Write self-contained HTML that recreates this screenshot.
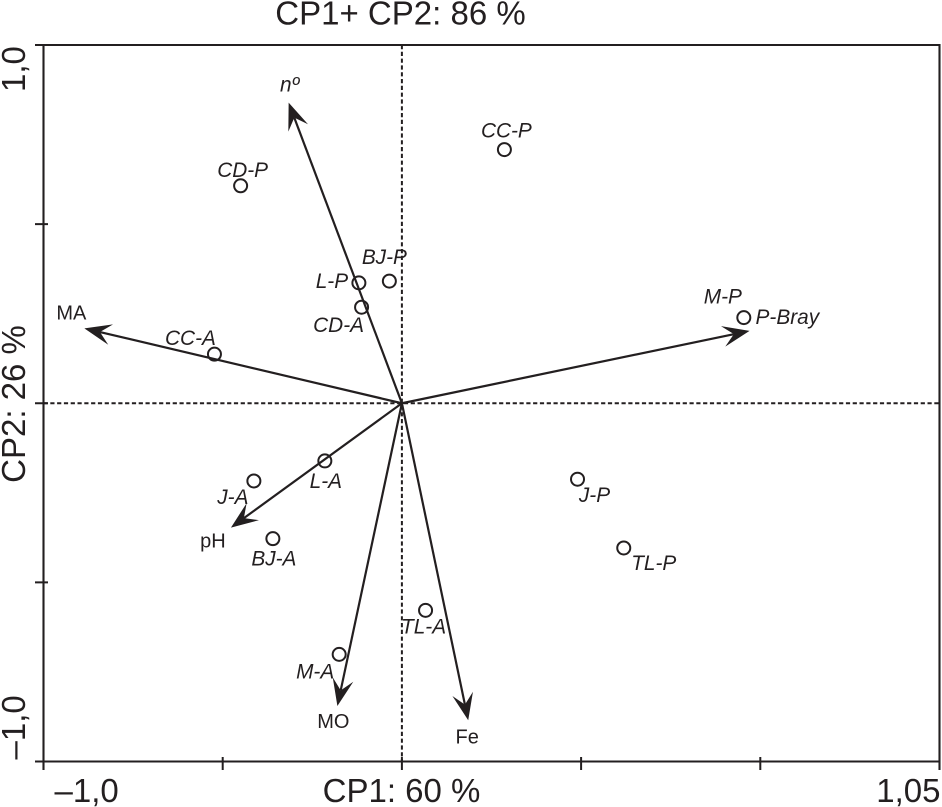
<!DOCTYPE html>
<html lang="pt">
<head>
<meta charset="utf-8">
<title>CP1+ CP2 biplot</title>
<style>
html,body{margin:0;padding:0;background:#fff;}
svg{display:block;}
text{font-family:"Liberation Sans",sans-serif;fill:#231f20;}
.big{font-size:33px;}
.lab{font-size:20.8px;font-style:italic;}
.var{font-size:20px;}
</style>
</head>
<body>
<svg id="chart" width="942" height="807" viewBox="0 0 942 807" xmlns="http://www.w3.org/2000/svg">
  <rect width="942" height="807" fill="#fff"/>
  <text class="big" x="400.5" y="24.5" text-anchor="middle">CP1+ CP2: 86 %</text>
  <text class="big" x="401.5" y="802" text-anchor="middle">CP1: 60 %</text>
  <text class="big" transform="translate(25 404) rotate(-90)" text-anchor="middle">CP2: 26 %</text>
  <g id="axes"></g>
  <g id="vectors"></g>
  <g id="points"></g>
</svg>
<script>
// Chart data
const xTicks = [-1, -0.5, 0, 0.5, 1, 1.5];
const yTicks = [-1, -0.5, 0, 0.5, 1];
const xTickLabels = ['\u20131,0', '', '', '', '', '1,05'];
const yTickLabels = ['\u20131,0', '', '', '', '1,0'];

const sampleNames = ['CD-P','CC-P','L-P','BJ-P','CD-A','CC-A','M-P','L-A','J-A','BJ-A','TL-A','M-A','J-P','TL-P'];
const sampleCP1 = [-0.450,0.286,-0.120,-0.035,-0.1125,-0.523,0.954,-0.215,-0.413,-0.360,0.066,-0.175,0.490,0.619];
const sampleCP2 = [0.607,0.708,0.336,0.341,0.268,0.137,0.239,-0.161,-0.217,-0.378,-0.578,-0.701,-0.212,-0.404];

const vectorNames = ['n\u00ba','MA','pH','MO','Fe','P-Bray'];
const vectorCP1 = [-0.316,-0.886,-0.477,-0.180,0.185,0.970];
const vectorCP2 = [0.839,0.209,-0.347,-0.845,-0.885,0.202];

// Axis functions
const X0 = 43.5, X1 = 939.5, Y0 = 761.5, Y1 = 45;
const x = v => X0 + (v + 1) / 2.5 * (X1 - X0);
const y = v => Y0 - (v + 1) / 2 * (Y0 - Y1);

const NS = 'http://www.w3.org/2000/svg';
const INK = '#231f20';
function make(tag, attrs, parent) {
  const e = document.createElementNS(NS, tag);
  for (const k in attrs) e.setAttribute(k, attrs[k]);
  parent.appendChild(e);
  return e;
}

// Axes
const axes = document.getElementById('axes');
const frame = make('path', {d:
  'M35 ' + Y1 + 'H' + x(1.5) + 'V770' +
  'M' + x(-1) + ' ' + Y1 + 'V770' +
  'M35 ' + Y0 + 'H' + x(1.5),
  fill:'none', stroke:INK, 'stroke-width':2.1}, axes);



const zeroH = make('line', {x1:x(-1), x2:x(1.5), y1:y(0), y2:y(0), stroke:INK, 'stroke-width':2, 'stroke-dasharray':'4.2 2.6'}, axes);


const zeroV = make('line', {x1:x(0), x2:x(0), y1:y(1), y2:y(-1), stroke:INK, 'stroke-width':2, 'stroke-dasharray':'4.2 2.6'}, axes);



xTicks.forEach((t, i) => {
  const tick = make('line', {x1:x(t), x2:x(t), y1:757, y2:770, stroke:INK, 'stroke-width':2}, axes);
  
  
  if (xTickLabels[i]) {
    const anchor = i === 0 ? 'start' : 'end';
    const px = i === 0 ? x(t) + 11 : x(t) + 1;
    const label = make('text', {x:px, y:802, 'text-anchor':anchor, class:'big'}, axes);
    label.textContent = xTickLabels[i];
    
    
  }
});
yTicks.forEach((t, i) => {
  const tick = make('line', {x1:35, x2:48, y1:y(t), y2:y(t), stroke:INK, 'stroke-width':2}, axes);
  
  
  if (yTickLabels[i]) {
    const py = i === 0 ? y(t) - 2 : y(t) + 47;
    const label = make('text', {transform:'translate(25 ' + py + ') rotate(-90)', class:'big'}, axes);
    label.textContent = yTickLabels[i];
    
    
  }
});

// Label placement relative to each mark (pixels)
const vectorLabelOffset = {'n\u00ba':[1,-11],'MA':[-13,-9],'pH':[-18,20],'MO':[-4,22],'Fe':[-1,23],'P-Bray':[6,-7]};
const sampleLabelOffset = {
  'CD-P':[2,-9],'CC-P':[2,-12],'L-P':[-27,5],'BJ-P':[-5,-17],'CD-A':[-23,25],'CC-A':[-24,-9],
  'M-P':[-21,-14],'L-A':[1,27],'J-A':[-21,23],'BJ-A':[1,27],'TL-A':[-2,23],'M-A':[-24,24],
  'J-P':[17,23],'TL-P':[30,22]
};

// Vectors
const vectors = document.getElementById('vectors');
vectorNames.forEach((name, i) => {
  const ox = x(0), oy = y(0);
  const tx = x(vectorCP1[i]), ty = y(vectorCP2[i]);
  const len = Math.hypot(tx - ox, ty - oy);
  const ux = (ox - tx) / len, uy = (oy - ty) / len;
  const nx = -uy, ny = ux;
  const headLen = 27, half = 10.5, notch = 16;
  const shaft = make('line', {x1:ox, y1:oy, x2:tx + ux * notch, y2:ty + uy * notch, stroke:INK, 'stroke-width':2.2}, vectors);
  
  
  const pts = [
    [tx, ty],
    [tx + ux * headLen + nx * half, ty + uy * headLen + ny * half],
    [tx + ux * notch, ty + uy * notch],
    [tx + ux * headLen - nx * half, ty + uy * headLen - ny * half]
  ].map(p => p.join(',')).join(' ');
  const head = make('polygon', {points:pts, fill:INK}, vectors);
  
  
  const off = vectorLabelOffset[name];
  const isItalic = name === 'n\u00ba' || name === 'P-Bray';
  const label = make('text', {
    x:tx + off[0], y:ty + off[1],
    'text-anchor': name === 'P-Bray' ? 'start' : 'middle',
    class: isItalic ? 'lab' : 'var'
  }, vectors);
  label.textContent = name;
  
  
});

// Sample points
const points = document.getElementById('points');
sampleNames.forEach((name, i) => {
  const px = x(sampleCP1[i]), py = y(sampleCP2[i]);
  const dot = make('circle', {cx:px, cy:py, r:6.5, fill:'none', stroke:INK, 'stroke-width':2}, points);
  
  
  const off = sampleLabelOffset[name];
  const label = make('text', {x:px + off[0], y:py + off[1], 'text-anchor':'middle', class:'lab'}, points);
  label.textContent = name;
  
  
});
</script>
</body>
</html>
